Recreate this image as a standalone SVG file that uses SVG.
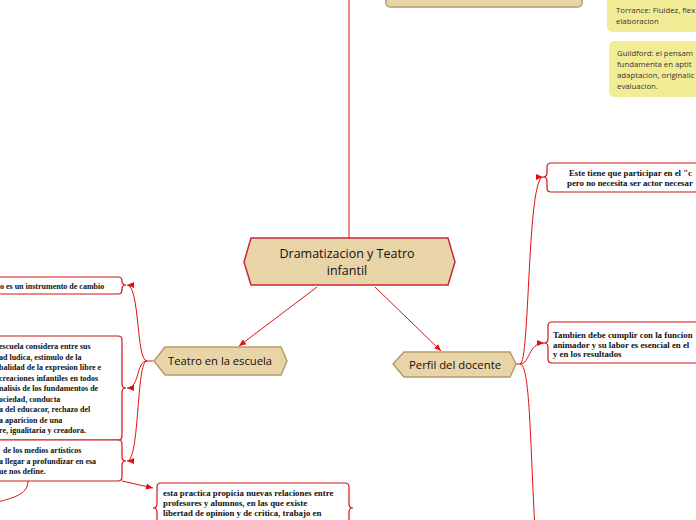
<svg xmlns="http://www.w3.org/2000/svg" width="696" height="520" viewBox="0 0 696 520">
<style>
.hex{fill:#e8d4a7;stroke:#b39b6c;stroke-width:1.5}
.main{fill:#e8d4a7;stroke:#c8283a;stroke-width:1.5}
.ntxt{font-family:"Open Sans","Noto Sans",sans-serif;fill:#111}
.box{fill:#fff;stroke:#d21414;stroke-width:1.2}
.btxt{font-family:"Liberation Serif",serif;font-weight:bold;font-size:8px;fill:#111}
.btxt2{font-family:"Liberation Serif",serif;font-weight:bold;font-size:8.8px;fill:#111}
.yel{fill:#f3ec97;stroke:none}
.ytxt{font-family:"Open Sans","Noto Sans",sans-serif;font-size:7.8px;fill:#333}
.con{fill:none;stroke:#e01010;stroke-width:1}
</style>
<defs>
<marker id="arr" markerUnits="userSpaceOnUse" markerWidth="8" markerHeight="8" refX="7" refY="4" orient="auto">
<path d="M0,1 L7,4 L0,7 Z" fill="#e01010"/>
</marker>
</defs>
<g id="connectors">
<line class="con" x1="349" y1="0" x2="349" y2="238"/>
<line class="con" x1="317" y1="287" x2="239" y2="346" marker-end="url(#arr)"/>
<line class="con" x1="375" y1="287" x2="441" y2="351" marker-end="url(#arr)"/>
<path class="con" d="M153,361 L147,361"/>
<path class="con" d="M147,361 C136,361 140,285 127,285" marker-end="url(#arr)"/>
<path class="con" d="M147,361 C136,361 140,388 127,388" marker-end="url(#arr)"/>
<path class="con" d="M147,361 C136,361 140,461 127,461" marker-end="url(#arr)"/>
<path class="con" d="M122,481 L153,488" marker-end="url(#arr)"/>
<path class="con" d="M28,481 C28,496 10,498 -5,503"/>
<path class="con" d="M516,364 L520,364"/>
<path class="con" d="M520,364 C530,364 527,177 543,177" marker-end="url(#arr)"/>
<path class="con" d="M520,364 C530,364 528,343 544,343" marker-end="url(#arr)"/>
<path class="con" d="M520,364 C530,364 530,440 535,530"/>
</g>
<g id="top-node">
<rect x="386" y="-10" width="196" height="17" rx="4" class="hex"/>
</g>
<g id="torrance">
<rect class="yel" x="607" y="-6" width="110" height="38" rx="5"/>
<text class="ytxt" x="616" y="13">Torrance: Fluidez, flex</text>
<text class="ytxt" x="616" y="24">elaboracion</text>
</g>
<g id="guildford">
<rect class="yel" x="609" y="41" width="110" height="56" rx="5"/>
<text class="ytxt" x="617" y="56">Guildford: el pensam</text>
<text class="ytxt" x="617" y="67">fundamenta en aptit</text>
<text class="ytxt" x="617" y="78">adaptacion, originalic</text>
<text class="ytxt" x="617" y="89">evaluacion.</text>
</g>
<g id="central">
<polygon class="main" points="244,262 251,238 448,238 455,262 448,285 251,285"/>
<text class="ntxt" x="347" y="258" font-size="12.5" text-anchor="middle">Dramatizacion y Teatro</text>
<text class="ntxt" x="347" y="275" font-size="12.5" text-anchor="middle">infantil</text>
</g>
<g id="teatro-escuela">
<polygon class="hex" points="154,361 165,347 281,347 287,361 281,375 165,375"/>
<text class="ntxt" x="220" y="365" font-size="11.2" text-anchor="middle">Teatro en la escuela</text>
</g>
<g id="perfil-docente">
<polygon class="hex" points="393,364 404,352 510,352 516,364 510,377 404,377"/>
<text class="ntxt" x="455" y="368.5" font-size="11.3" text-anchor="middle">Perfil del docente</text>
</g>
<g id="box-cambio">
<path class="box" d="M-10,277 H118 Q122,277 122,281 Q122,285 126,285 Q122,285 122,289 V290 Q122,294 118,294 H-10 Z"/>
<text class="btxt" x="0" y="288.5">o es un instrumento de cambio</text>
</g>
<g id="box-escuela">
<path class="box" d="M-10,336 H118 Q122,336 122,340 V384 Q122,388 126,388 Q122,388 122,392 V436 Q122,440 118,440 H-10 Z"/>
<text class="btxt" x="-1" y="349">escuela considera entre sus</text>
<text class="btxt" x="-1" y="359.5">ad ludica, estimulo de la</text>
<text class="btxt" x="-1" y="370">balidad de la expresion libre e</text>
<text class="btxt" x="-1" y="380.5"> creaciones infantiles en todos</text>
<text class="btxt" x="-1" y="391">nalisis de los fundamentos de</text>
<text class="btxt" x="-1" y="401.5">ociedad, conducta</text>
<text class="btxt" x="-1" y="412">a del educacor, rechazo del</text>
<text class="btxt" x="-1" y="422.5">a aparicion de una</text>
<text class="btxt" x="-1" y="433">re, igualitaria y creadora.</text>
</g>
<g id="box-medios">
<path class="box" d="M-10,440 H118 Q122,440 122,444 V457 Q122,461 126,461 Q122,461 122,465 V477 Q122,481 118,481 H-10 Z"/>
<text class="btxt" x="3" y="453">de los medios artisticos</text>
<text class="btxt" x="-1" y="463.5">a llegar a profundizar en esa</text>
<text class="btxt" x="-1" y="474">ue nos define.</text>
</g>
<g id="box-practica">
<path class="box" d="M161,483 H345 Q349,483 349,487 V504 Q349,508 353,508 Q349,508 349,512 V540 H157 V512 Q157,508 153,508 Q157,508 157,504 V487 Q157,483 161,483 Z"/>
<text class="btxt2" x="163" y="495.5">esta practica propicia nuevas relaciones entre</text>
<text class="btxt2" x="163" y="506">profesores y alumnos, en las que existe</text>
<text class="btxt2" x="163" y="516">libertad de opinion y de critica, trabajo en</text>
</g>
<g id="box-este">
<path class="box" d="M551,163 H756 Q760,163 760,167 V188 Q760,192 756,192 H551 Q547,192 547,188 V181 Q547,177 543,177 Q547,177 547,173 V167 Q547,163 551,163 Z"/>
<text class="btxt2" x="569" y="175.5">Este tiene que participar en el "c</text>
<text class="btxt2" x="567" y="185.5">pero no necesita ser actor necesar</text>
</g>
<g id="box-tambien">
<path class="box" d="M552,322 H756 Q760,322 760,326 V359 Q760,363 756,363 H552 Q548,363 548,359 V347 Q548,343 544,343 Q548,343 548,339 V326 Q548,322 552,322 Z"/>
<text class="btxt2" x="553" y="338">Tambien debe cumplir con la funcion</text>
<text class="btxt2" x="553" y="347.7">animador y su labor es esencial en el</text>
<text class="btxt2" x="553" y="357.3">y en los resultados</text>
</g>
</svg>
